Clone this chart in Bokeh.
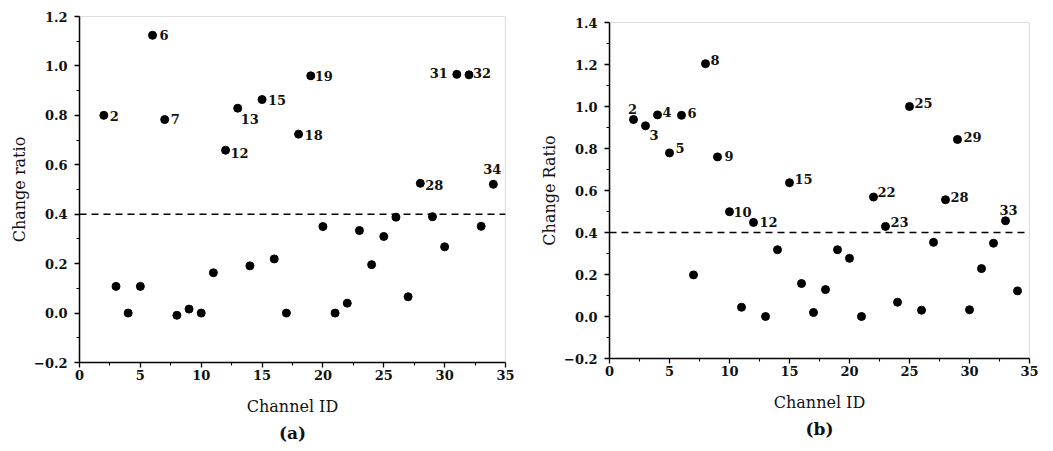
from bokeh.plotting import figure
from bokeh.layouts import row
from bokeh.models import (ColumnDataSource, Span, LinearAxis, CustomJSTickFormatter,
                          FixedTicker, Range1d, BoxAnnotation)
from bokeh.core.properties import value
from bokeh.embed import file_html
from bokeh.resources import INLINE

# ---------------- data ----------------
channels_a = list(range(2, 35))
ratio_a = [0.80, 0.108, 0.0, 0.108, 1.124, 0.783, -0.009, 0.016, 0.0, 0.163,
           0.659, 0.829, 0.191, 0.864, 0.219, 0.0, 0.724, 0.960, 0.350, 0.0,
           0.040, 0.334, 0.196, 0.310, 0.388, 0.066, 0.525, 0.390, 0.268, 0.966,
           0.964, 0.351, 0.521]
labelled_a = [2, 6, 7, 12, 13, 15, 18, 19, 28, 31, 32, 34]

channels_b = list(range(2, 35))
ratio_b = [0.938, 0.908, 0.960, 0.779, 0.958, 0.198, 1.204, 0.760, 0.499, 0.044,
           0.448, 0.0, 0.318, 0.637, 0.157, 0.019, 0.128, 0.318, 0.277, 0.0,
           0.569, 0.429, 0.068, 1.0, 0.030, 0.353, 0.556, 0.843, 0.032, 0.228,
           0.349, 0.456, 0.122]
labelled_b = [2, 3, 4, 5, 6, 8, 9, 10, 12, 15, 22, 23, 25, 28, 29, 33]

threshold = 0.4

x_ticks = [0, 5, 10, 15, 20, 25, 30, 35]
x_minor = [2.5, 7.5, 12.5, 17.5, 22.5, 27.5, 32.5]
y_ticks_a = [-0.2, 0.0, 0.2, 0.4, 0.6, 0.8, 1.0, 1.2]
y_ticks_b = [-0.2, 0.0, 0.2, 0.4, 0.6, 0.8, 1.0, 1.2, 1.4]
y_minor_a = [-0.1, 0.1, 0.3, 0.5, 0.7, 0.9, 1.1]
y_minor_b = [-0.1, 0.1, 0.3, 0.5, 0.7, 0.9, 1.1, 1.3]

# label placement (style): channel -> (dx, dy, align) in screen px
offsets_a = {2: (6, 1, "left"), 6: (7, 0, "left"), 7: (6, -1, "left"),
             12: (5, 3, "left"), 13: (3, 11, "left"), 15: (6, 0, "left"),
             18: (6, 1, "left"), 19: (4, 0, "left"), 28: (5, 2, "left"),
             31: (-9, -1, "right"), 32: (4, -2, "left"), 34: (-1, -15, "center")}
offsets_b = {2: (-1, -11, "center"), 3: (4, 9, "left"), 4: (5, -3, "left"),
             5: (6, -5, "left"), 6: (6, -2, "left"), 8: (5, -4, "left"),
             9: (7, -1, "left"), 10: (4, 0, "left"), 12: (6, 0, "left"),
             15: (5, -4, "left"), 22: (4, -5, "left"), 23: (5, -4, "left"),
             25: (5, -4, "left"), 28: (5, -3, "left"), 29: (6, -2, "left"),
             33: (3, -11, "center")}

FONT = "DejaVu Serif"
INK = "#111111"

minus_fmt = CustomJSTickFormatter(code="""
    return tick.toFixed(1).replace('-', '\u2212');
""")


def make_panel(chs, vals, labelled, offs, ylabel, panel, yticks, yminor,
               width, height, b_left, b_right, b_top, b_bottom):
    p = figure(width=width, height=height, output_backend="svg",
               toolbar_location=None, title=None, frame_align=False,
               x_range=Range1d(0, 35), y_range=Range1d(yticks[0], yticks[-1]),
               min_border_left=b_left, min_border_right=b_right,
               min_border_top=b_top, min_border_bottom=b_bottom)
    p.grid.visible = False
    p.outline_line_color = None
    p.background_fill_color = "white"
    p.border_fill_color = "white"

    p.add_layout(BoxAnnotation(fill_alpha=0, line_color="#222222",
                               line_width=1.2))

    p.xaxis.ticker = FixedTicker(ticks=x_ticks, minor_ticks=x_minor)
    p.yaxis.ticker = FixedTicker(ticks=yticks, minor_ticks=yminor)
    p.yaxis.formatter = minus_fmt
    for ax in (p.xaxis[0], p.yaxis[0]):
        ax.axis_line_color = "black"
        ax.axis_line_width = 1.5
        ax.major_tick_in = 0
        ax.major_tick_out = 5
        ax.minor_tick_in = 0
        ax.minor_tick_out = 3
        ax.major_tick_line_width = 1.3
        ax.minor_tick_line_width = 1.1
        ax.major_label_text_font = FONT
        ax.major_label_text_font_style = "bold"
        ax.major_label_text_font_size = "13px"
        ax.major_label_text_color = INK
        ax.axis_label_text_font = FONT
        ax.axis_label_text_font_size = "16px"
        ax.axis_label_text_color = INK
        ax.axis_label_text_font_style = "normal"
    p.xaxis.major_label_standoff = 2
    p.yaxis.major_label_standoff = 7
    p.xaxis.axis_label = "Channel ID"
    p.xaxis.axis_label_standoff = 14
    p.yaxis.axis_label = ylabel
    p.yaxis.axis_label_standoff = 2

    # panel tag "(a)" / "(b)" as a bare axis label under the x axis
    tag = LinearAxis(ticker=FixedTicker(ticks=[]), axis_label=panel,
                     axis_line_color=None, major_tick_line_color=None,
                     minor_tick_line_color=None, axis_label_standoff=4,
                     axis_label_text_font=FONT, axis_label_text_font_size="17px",
                     axis_label_text_font_style="bold", axis_label_text_color=INK)
    p.add_layout(tag, "below")

    p.add_layout(Span(location=threshold, dimension="width",
                      line_color="black", line_width=1.6, line_dash="7 5"))

    p.scatter(chs, vals, size=8, color="black")

    lookup = dict(zip(chs, vals))
    for align in ("left", "right", "center"):
        ids = [c for c in labelled if offs[c][2] == align]
        if not ids:
            continue
        src = ColumnDataSource(dict(
            x=ids, y=[lookup[c] for c in ids], t=[str(c) for c in ids],
            dx=[offs[c][0] for c in ids], dy=[offs[c][1] for c in ids]))
        p.text("x", "y", text="t", source=src, x_offset="dx", y_offset="dy",
               text_align=align, text_baseline="middle",
               text_font=value(FONT), text_font_style="bold",
               text_font_size="13px", text_color=INK)
    return p


W = 526
H = 446
pa = make_panel(channels_a, ratio_a, labelled_a, offsets_a, "Change ratio",
                "(a)", y_ticks_a, y_minor_a, W, H, 79, W - 79 - 426, 16, H - 16 - 346)
pb = make_panel(channels_b, ratio_b, labelled_b, offsets_b, "Change Ratio",
                "(b)", y_ticks_b, y_minor_b, W, H, 83, W - 83 - 420, 22, H - 22 - 336)

layout = row(pa, pb, spacing=0)
open("out.html", "w").write(file_html(layout, INLINE))
